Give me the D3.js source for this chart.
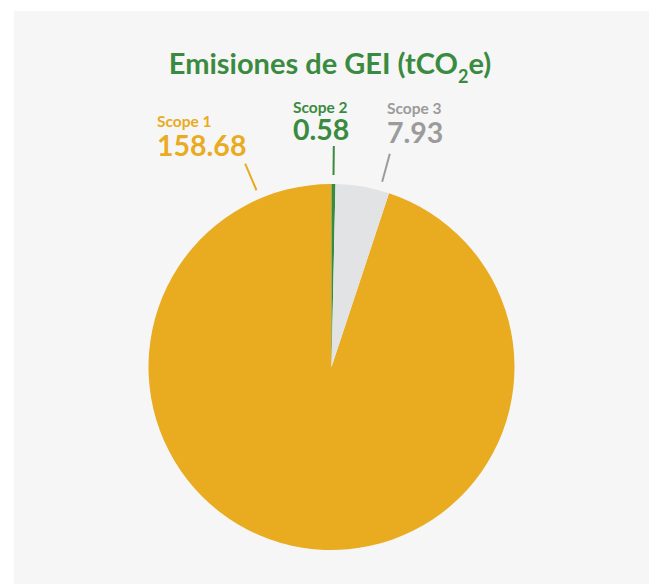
<!DOCTYPE html>
<html>
<head>
<meta charset="utf-8">
<script src="https://cdn.jsdelivr.net/npm/d3@7"></script>
<style>
  html, body { margin: 0; padding: 0; background: #ffffff; }
  svg { display: block; }
  text { font-family: Lato, "Open Sans", sans-serif; font-weight: 700; }
</style>
</head>
<body>
<svg id="chart" width="649" height="584"></svg>
<script>
// ---- data ----
const categories = ["Scope 1", "Scope 2", "Scope 3"];
const values = [158.68, 0.58, 7.93];
const valueLabels = ["158.68", "0.58", "7.93"];
const titleMain = "Emisiones de GEI (tCO";
const titleSub = "2";
const titleEnd = "e)";

// ---- styling / layout ----
const colors = ["#E9AB1F", "#3A8B3F", "#E2E3E4"];
const textColors = ["#E9AB1F", "#3A8B3F", "#9B9B9B"];
const lineColors = ["#E9AB1F", "#3A8B3F", "#9B9B9B"];
const leaderAngleDeg = [-23, 0.6, 15.3];
const labelPos = [
  { x: 157, yName: 127, yValue: 156 },
  { x: 293, yName: 112.5, yValue: 140 },
  { x: 387, yName: 114, yValue: 143 }
];

const W = 649, H = 584;
const cx = 331.5, cy = 367, R = 183;

const svg = d3.select("#chart");

// panel background
svg.append("rect")
  .attr("x", 14).attr("y", 11)
  .attr("width", W - 14).attr("height", H - 11)
  .attr("fill", "#F6F6F6");

// title
const title = svg.append("text")
  .attr("x", 330).attr("y", 74)
  .attr("text-anchor", "middle")
  .attr("fill", "#3A8B3F")
  .style("font-size", "29px");
title.append("tspan").text(titleMain);
title.append("tspan").text(titleSub).style("font-size", "18px").attr("dy", 9);
title.append("tspan").text(titleEnd).attr("dy", -9);

// pie
const total = d3.sum(values);
const start = (values[1] + values[2]) / total * 2 * Math.PI;
const pie = d3.pie()
  .sort(null)
  .value(d => d.value)
  .startAngle(start)
  .endAngle(start + 2 * Math.PI);

const data = categories.map((c, i) => ({ name: c, value: values[i], i }));
const arc = d3.arc().innerRadius(0).outerRadius(R);

const g = svg.append("g").attr("transform", `translate(${cx},${cy})`);
g.selectAll("path.slice")
  .data(pie(data))
  .join("path")
  .attr("class", "slice")
  .attr("d", arc)
  .attr("fill", d => colors[d.data.i]);

// leader lines
const r1 = R + 9, r2 = R + 38;
data.forEach((d, i) => {
  const a = leaderAngleDeg[i] * Math.PI / 180;
  g.append("line")
    .attr("x1", r1 * Math.sin(a)).attr("y1", -r1 * Math.cos(a))
    .attr("x2", r2 * Math.sin(a)).attr("y2", -r2 * Math.cos(a))
    .attr("stroke", lineColors[i])
    .attr("stroke-width", 2);
});

// labels
data.forEach((d, i) => {
  const p = labelPos[i];
  svg.append("text")
    .attr("x", p.x).attr("y", p.yName)
    .attr("fill", textColors[i])
    .style("font-size", "15.5px")
    .text(d.name);
  svg.append("text")
    .attr("x", p.x).attr("y", p.yValue)
    .attr("fill", textColors[i])
    .style("font-size", "28.5px")
    .text(valueLabels[i]);
});
</script>
</body>
</html>
